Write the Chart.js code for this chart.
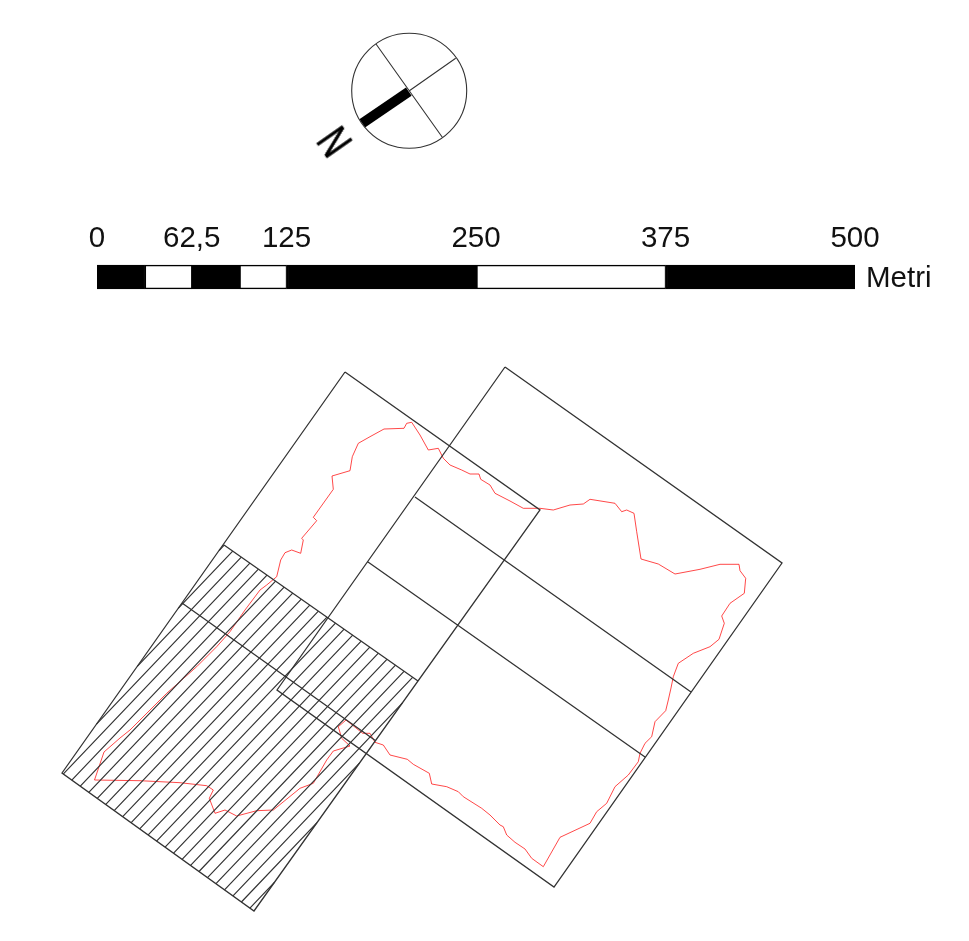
<!DOCTYPE html>
<html>
<head>
<meta charset="utf-8">
<title>Inquadramento</title>
<script src="https://cdn.jsdelivr.net/npm/chart.js@4"></script>
<style>
  html, body { margin: 0; padding: 0; background: #fff; }
  #page { position: relative; width: 969px; height: 941px; overflow: hidden; }
  #map { position: absolute; left: 0; top: 0; }
  #scale { position: absolute; left: 0; top: 223px; }
  #north {
    position: absolute; left: 314px; top: 118px; width: 40px; height: 48px;
    font: 44px/48px "Liberation Sans", sans-serif; text-align: center; color: #000;
    -webkit-text-stroke: 0.7px #000;
    transform: rotate(55deg) scaleX(0.72);
  }
</style>
</head>
<body>
<div id="page">
  <canvas id="map" width="969" height="941"></canvas>
  <canvas id="scale" width="969" height="72"></canvas>
  <div id="north">N</div>
</div>
<script>
// scale bar (metres)
const scaleTicks = [0, 62.5, 125, 250, 375, 500];
const scaleLengths = [31.25, 31.25, 31.25, 31.25, 125, 125, 125];
const scaleUnit = ['Metri'];

// compass
const circleX = [409.2];
const circleY = [90.8];
const crossX = [376, 442.3, null, 455.7, 409];
const crossY = [44, 137.3, null, 58.3, 91];
const needleX = [408.8, 362.2];
const needleY = [91.7, 123.3];

// sheet frames, map units
const frameX = [345, 540, 254, 62, 345, null, 224, 418, null, 182, 376, null,
  505, 782, 554, 277, 505, null, 415, 691, null, 368, 645];
const frameY = [372, 510, 911, 773, 372, null, 545, 681, null, 603, 741, null,
  367, 563, 887, 690, 367, null, 497, 692, null, 562, 757];

// hatch lines of the lower sheet: upper and lower ends
const hatchTopX = [224.2, 232.7, 241.3, 249.9, 258.4, 267, 275.6, 284.1, 292.7, 301.3, 309.8, 318.4, 327, 335.5,
  344.1, 352.7, 361.2, 369.8, 378.4, 386.9, 395.5, 404, 412.6, 402.3, 359.7, 317, 274.4];
const hatchTopY = [545.1, 551.1, 557.1, 563.1, 569.2, 575.1, 581.1, 587.2, 593.2, 599.1, 605.2, 611.2, 617.1, 623.2,
  629.2, 635.2, 641.2, 647.2, 653.2, 659.3, 665.2, 671.3, 677.3, 703.1, 762.8, 822.6, 882.4];
const hatchLowX = [219.1, 178.2, 137.3, 96.5, 63.4, 71.8, 80.3, 88.8, 97.3, 105.8, 114.2, 122.7, 131.2, 139.7,
  148.2, 156.6, 165.1, 173.6, 182.1, 190.6, 199, 207.5, 216, 224.5, 233, 241.4, 249.9];
const hatchLowY = [550.5, 608.4, 666.3, 724.2, 773.9, 780.1, 786.2, 792.3, 798.3, 804.4, 810.6, 816.7, 822.7, 828.8,
  834.9, 841.1, 847.1, 853.2, 859.3, 865.4, 871.5, 877.6, 883.7, 889.8, 895.8, 902, 908.1];

// red boundary
const outlineX = [94.5, 104, 120, 130, 140, 166.7, 196.7, 216.7, 230, 245, 260, 266.7, 276.7, 278.3, 280.7, 285, 291.7,
  300.7, 303.3, 301.7, 316.7, 313.3, 333.3, 332, 350, 352.3, 358.3, 370, 384, 404, 406.7, 411.7, 420, 428.3, 438.3,
  443.3, 450, 461.7, 470, 479, 480.7, 490, 495, 510, 523.3, 540, 553.3, 570, 583.3, 590, 615, 621.7, 626.7, 634,
  636.7, 641, 658.3, 675, 700, 720, 739, 740, 745.7, 744.3, 730, 721.7, 724.3, 719, 710, 693.3, 678.3, 673.3, 671,
  668.3, 665.7, 655, 651.7, 645, 640, 638.3, 628.3, 615, 606.7, 596.7, 590, 560, 543.3, 531.7, 525, 515, 506.7,
  503.3, 500, 490, 481.7, 463.3, 458.3, 446.7, 431.7, 429.3, 413.3, 407.3, 390, 383.3, 375, 370, 362.7, 346, 338.3,
  341.7, 350, 333.3, 326.7, 313.3, 300, 273.3, 256.7, 236.7, 225, 215, 209.3, 213.3, 206.7, 180, 140, 94.5];
const outlineY = [780, 752, 738, 730, 720, 693.3, 666.7, 646.7, 631.7, 610, 590, 585, 576.7, 570, 560, 552.7, 550,
  553.3, 540, 538.3, 520.7, 517.3, 489.3, 476, 470.7, 456.7, 443.3, 436.7, 429, 428.3, 423.3, 422.3, 435, 450, 448.3,
  458.3, 465, 470, 474, 474, 479.3, 485, 493.3, 501, 508.3, 508.3, 510, 505, 504, 499.3, 503.3, 511.7, 510, 513.3,
  531.7, 559, 564, 574, 569.3, 564.3, 564.3, 570.7, 578.3, 593.3, 603.3, 616, 623.3, 639.3, 646.7, 653.3, 663.3, 676.7, 688,
  700, 710.7, 721.7, 736.7, 743.3, 753.3, 761.7, 775, 786.7, 803.3, 811.7, 823.3, 837.3, 866.7, 858.3, 849, 842.3, 835,
  826.7, 825, 815, 808.3, 796.7, 791.7, 786.7, 784, 773.3, 764.3, 759.3, 755, 745, 742.3, 733.3, 733.3, 720, 726.7,
  738.3, 746, 751, 760, 783.3, 788.3, 810, 810.7, 816, 810, 813.3, 798.3, 790, 785.7, 782.7, 780.7, 780];

const LINE = '#333333';

function toPoints(xs, ys) {
  return xs.map((x, i) => ({ x: x, y: ys[i] }));
}

// two ends of every hatch, a gap between lines
function hatchPoints() {
  const pts = [];
  hatchTopX.forEach((x, i) => {
    pts.push({ x: x, y: hatchTopY[i] });
    pts.push({ x: hatchLowX[i], y: hatchLowY[i] });
    pts.push({ x: null, y: null });
  });
  return pts;
}

new Chart(document.getElementById('map'), {
  type: 'scatter',
  data: {
    datasets: [
      { data: hatchPoints(), showLine: true, borderColor: LINE, borderWidth: 1.2, pointRadius: 0 },
      { data: toPoints(frameX, frameY), showLine: true, borderColor: LINE, borderWidth: 1.3, pointRadius: 0 },
      { data: toPoints(outlineX, outlineY), showLine: true, borderColor: 'rgba(255,0,0,0.8)', borderWidth: 0.9, pointRadius: 0 },
      { data: toPoints(circleX, circleY), pointRadius: 57.5, pointBorderColor: LINE, pointBorderWidth: 1.1, pointBackgroundColor: 'rgba(0,0,0,0)' },
      { data: toPoints(crossX, crossY), showLine: true, borderColor: LINE, borderWidth: 1.1, pointRadius: 0 },
      { data: toPoints(needleX, needleY), showLine: true, borderColor: '#000', borderWidth: 10, pointRadius: 0 }
    ]
  },
  options: {
    responsive: false,
    animation: false,
    plugins: { legend: { display: false }, tooltip: { enabled: false } },
    layout: { padding: 0, autoPadding: false },
    scales: {
      x: { type: 'linear', display: false, min: 0, max: 969 },
      y: { type: 'linear', display: false, min: 0, max: 941, reverse: true }
    }
  }
});

// scale bar: stacked segments, black and white in turn
new Chart(document.getElementById('scale'), {
  type: 'bar',
  data: {
    labels: scaleUnit,
    datasets: scaleLengths.map((v, i) => ({
      data: [v],
      backgroundColor: i % 2 === 0 ? '#000' : '#fff',
      borderColor: '#000',
      borderWidth: { left: 2, right: 1, top: 1.7, bottom: 1.7 },
      borderSkipped: false,
      barThickness: 24
    }))
  },
  options: {
    indexAxis: 'y',
    responsive: false,
    animation: false,
    plugins: { legend: { display: false }, tooltip: { enabled: false } },
    layout: { padding: { left: 97, right: 0, top: 0, bottom: 0 } },
    scales: {
      x: {
        type: 'linear',
        position: 'top',
        stacked: true,
        min: 0,
        max: 500,
        grid: { display: false, drawTicks: false },
        border: { display: false },
        afterBuildTicks: axis => { axis.ticks = scaleTicks.map(v => ({ value: v })); },
        ticks: {
          autoSkip: false,
          maxRotation: 0,
          padding: 2,
          color: '#111',
          font: { family: 'Liberation Sans', size: 29.5 },
          callback: v => String(v).replace('.', ',')
        }
      },
      y: {
        type: 'category',
        position: 'right',
        stacked: true,
        grid: { display: false, drawTicks: false },
        border: { display: false },
        afterFit: axis => { axis.width = 114; axis.paddingTop = 0; axis.paddingBottom = 0; },
        ticks: {
          padding: 11,
          labelOffset: 2,
          color: '#111',
          font: { family: 'Liberation Sans', size: 29.5 }
        }
      }
    }
  }
});
</script>
</body>
</html>
